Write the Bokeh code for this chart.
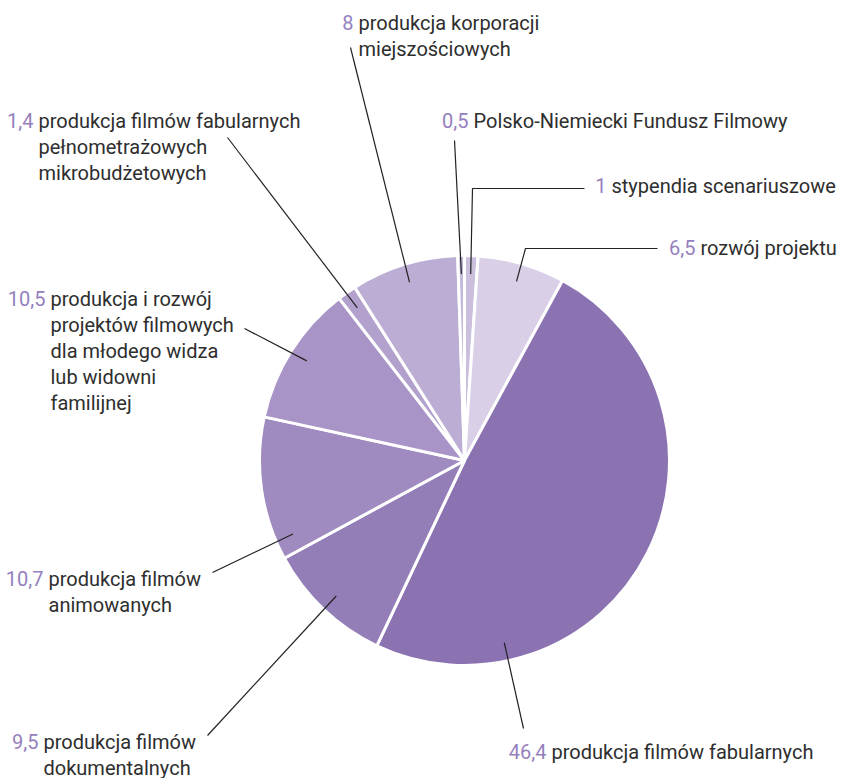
import math
from bokeh.plotting import figure
from bokeh.models import Range1d, ColumnDataSource
from bokeh.core.properties import value
from bokeh.embed import file_html
from bokeh.resources import INLINE

# ---- data (clockwise from 12 o'clock) ----
values = [1, 6.5, 46.4, 9.5, 10.7, 10.5, 1.4, 8, 0.5]
descriptions = [
    ["stypendia scenariuszowe"],
    ["rozwój projektu"],
    ["produkcja filmów fabularnych"],
    ["produkcja filmów", "dokumentalnych"],
    ["produkcja filmów", "animowanych"],
    ["produkcja i rozwój", "projektów filmowych", "dla młodego widza", "lub widowni", "familijnej"],
    ["produkcja filmów fabularnych", "pełnometrażowych", "mikrobudżetowych"],
    ["produkcja korporacji", "miejszościowych"],
    ["Polsko-Niemiecki Fundusz Filmowy"],
]
colors = ["#CBBFDE", "#D9D0E8", "#8B73B2", "#947EB8", "#9F8BC0",
          "#A894C6", "#B2A1CD", "#BCADD4", "#C5B8DA"]

# ---- layout (screen-pixel positions) ----
CX, CY, R = 464, 460, 205
label_x = [611, 700, 551, 43, 48, 50, 38, 358, 473]
label_y = [185, 247, 751, 741, 578, 298, 120, 22, 120]
leader_start = [(584, 188), (657, 248), (523, 728), (207, 735), (212, 572),
                (244, 328), (227, 137), (350, 47), (454, 140)]
leader_elbow = [(472, 188), (525, 248), None, None, None, None, None, None, None]
anchor_frac = [0.5, 0.5, 0.787, 0.5, 0.13, 0.5, 0.5, 0.5, 0.5]
LINE_H = 26
FONT = "Roboto"
FSIZE = "20px"
NUM_COLOR = "#9580BE"
TXT_COLOR = "#2E2E2E"

W, H = 841, 778
p = figure(width=W, height=H, x_range=Range1d(0, W), y_range=Range1d(-H, 0),
           output_backend="svg", toolbar_location=None, min_border=0)
p.xaxis.visible = False
p.yaxis.visible = False
p.grid.visible = False
p.outline_line_color = None
p.background_fill_color = "white"

total = sum(values)
cum = [0.0]
for v in values:
    cum.append(cum[-1] + v)
# clockwise angle from top (degrees) -> math angle
starts = [math.radians(90 - cum[i + 1] / total * 360) for i in range(len(values))]
ends = [math.radians(90 - cum[i] / total * 360) for i in range(len(values))]

wsrc = ColumnDataSource(dict(x=[CX] * len(values), y=[-CY] * len(values),
                             start=starts, end=ends, color=colors))
p.wedge(x="x", y="y", radius=R, start_angle="start", end_angle="end",
        fill_color="color", line_color="white", line_width=3, source=wsrc)

# leader lines
xs, ys = [], []
for i, v in enumerate(values):
    cw = (cum[i] + anchor_frac[i] * v) / total * 360
    a = math.radians(cw)
    ax = CX + 0.91 * R * math.sin(a)
    ay = CY - 0.91 * R * math.cos(a)
    pts = [leader_start[i]]
    if leader_elbow[i] is not None:
        pts.append(leader_elbow[i])
    pts.append((ax, ay))
    xs.append([q[0] for q in pts])
    ys.append([-q[1] for q in pts])
p.multi_line(xs=xs, ys=ys, line_color="#222222", line_width=1.2)

# labels
nx, ny, nt = [], [], []
tx, ty, tt = [], [], []
for i, v in enumerate(values):
    nx.append(label_x[i] - 5)
    ny.append(-label_y[i])
    nt.append(f"{v:g}".replace(".", ","))
    for j, line in enumerate(descriptions[i]):
        tx.append(label_x[i])
        ty.append(-(label_y[i] + j * LINE_H))
        tt.append(line)

p.text(x="x", y="y", text="t", source=ColumnDataSource(dict(x=nx, y=ny, t=nt)),
       text_font=value(FONT), text_font_size=FSIZE, text_color=NUM_COLOR,
       text_align="right", text_baseline="middle")
p.text(x="x", y="y", text="t", source=ColumnDataSource(dict(x=tx, y=ty, t=tt)),
       text_font=value(FONT), text_font_size=FSIZE, text_color=TXT_COLOR,
       text_align="left", text_baseline="middle")

open("out.html", "w").write(file_html(p, INLINE))
